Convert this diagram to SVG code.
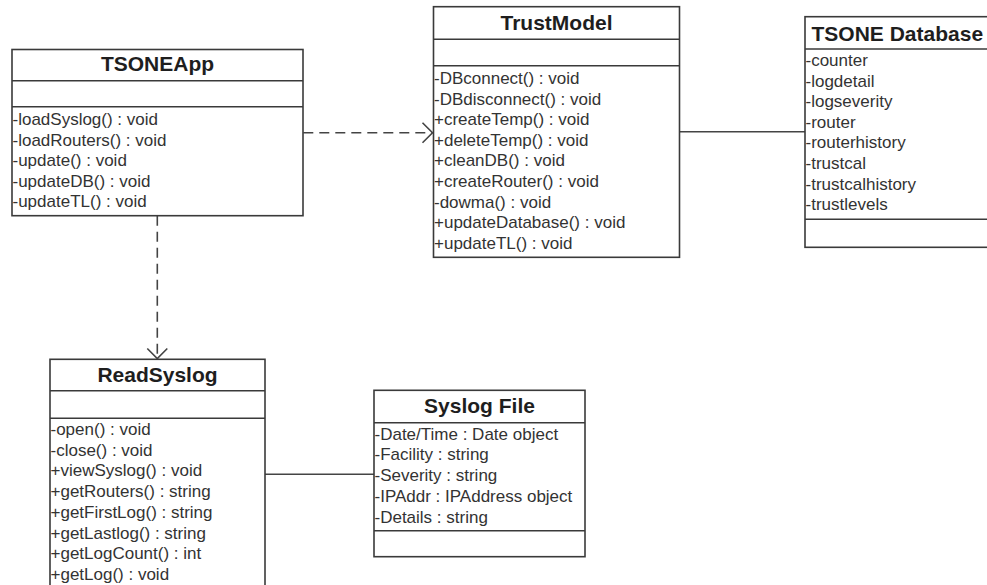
<svg xmlns="http://www.w3.org/2000/svg" width="987" height="585" viewBox="0 0 987 585">
  <style>
    .box { fill: #ffffff; stroke: #3a3a3a; stroke-width: 1.6; }
    .div { stroke: #3a3a3a; stroke-width: 1.6; }
    .title { font-family: "Liberation Sans", Arial, sans-serif; font-size: 21px; font-weight: bold; fill: #1e1e1e; text-anchor: middle; }
    .item { font-family: "Liberation Sans", Arial, sans-serif; font-size: 17px; fill: #333333; }
    .dep { fill: none; stroke: #444444; stroke-width: 1.6; stroke-dasharray: 10 6; }
    .assoc { fill: none; stroke: #444444; stroke-width: 1.6; }
  </style>
  <defs>
    <marker id="openArrow" markerUnits="userSpaceOnUse" viewBox="-12 -12 14 24" markerWidth="14" markerHeight="24" refX="0" refY="0" orient="auto">
      <path d="M-10,-10 L0,0 L-10,10" fill="none" stroke="#444444" stroke-width="1.6" stroke-dasharray="none"/>
    </marker>
  </defs>

  <rect width="987" height="585" fill="#ffffff"/>

  <!-- connectors -->
  <g id="connectors">
    <path class="dep" d="M303.3,132.7 H432.5" marker-end="url(#openArrow)"/>
    <path class="assoc" d="M679.5,131.7 H805"/>
    <path class="dep" d="M157.3,215.7 V358.5" marker-end="url(#openArrow)"/>
    <path class="assoc" d="M265,474.3 H374"/>
  </g>

  <!-- TSONEApp class -->
  <g id="tsoneapp">
    <rect class="box" x="12" y="49.5" width="291" height="166.2"/>
    <line class="div" x1="12" y1="80.7" x2="303" y2="80.7"/>
    <line class="div" x1="12" y1="106.7" x2="303" y2="106.7"/>
    <text class="title" x="157.5" y="71">TSONEApp</text>
    <text class="item" x="12.5" y="125">-loadSyslog() : void</text>
    <text class="item" x="12.5" y="145.5">-loadRouters() : void</text>
    <text class="item" x="12.5" y="166">-update() : void</text>
    <text class="item" x="12.5" y="186.5">-updateDB() : void</text>
    <text class="item" x="12.5" y="207">-updateTL() : void</text>
  </g>

  <!-- TrustModel class -->
  <g id="trustmodel">
    <rect class="box" x="433.5" y="6.7" width="246" height="250.6"/>
    <line class="div" x1="433.5" y1="39.3" x2="679.5" y2="39.3"/>
    <line class="div" x1="433.5" y1="65.7" x2="679.5" y2="65.7"/>
    <text class="title" x="556.5" y="29.5">TrustModel</text>
    <text class="item" x="434" y="84">-DBconnect() : void</text>
    <text class="item" x="434" y="104.6">-DBdisconnect() : void</text>
    <text class="item" x="434" y="125.2">+createTemp() : void</text>
    <text class="item" x="434" y="145.8">+deleteTemp() : void</text>
    <text class="item" x="434" y="166.4">+cleanDB() : void</text>
    <text class="item" x="434" y="187">+createRouter() : void</text>
    <text class="item" x="434" y="207.6">-dowma() : void</text>
    <text class="item" x="434" y="228.2">+updateDatabase() : void</text>
    <text class="item" x="434" y="248.8">+updateTL() : void</text>
  </g>

  <!-- TSONE Database -->
  <g id="tsone-database">
    <rect class="box" x="805" y="16.7" width="195" height="230.6"/>
    <line class="div" x1="805" y1="49" x2="1000" y2="49"/>
    <line class="div" x1="805" y1="219.3" x2="1000" y2="219.3"/>
    <text class="title" x="811.5" y="40.7" style="text-anchor: start;">TSONE Database</text>
    <text class="item" x="805.5" y="66">-counter</text>
    <text class="item" x="805.5" y="86.6">-logdetail</text>
    <text class="item" x="805.5" y="107.2">-logseverity</text>
    <text class="item" x="805.5" y="127.8">-router</text>
    <text class="item" x="805.5" y="148.4">-routerhistory</text>
    <text class="item" x="805.5" y="169">-trustcal</text>
    <text class="item" x="805.5" y="189.6">-trustcalhistory</text>
    <text class="item" x="805.5" y="210.2">-trustlevels</text>
  </g>

  <!-- ReadSyslog class -->
  <g id="readsyslog">
    <rect class="box" x="50" y="359.3" width="215" height="240"/>
    <line class="div" x1="50" y1="390.7" x2="265" y2="390.7"/>
    <line class="div" x1="50" y1="418.3" x2="265" y2="418.3"/>
    <text class="title" x="157.5" y="382">ReadSyslog</text>
    <text class="item" x="50.5" y="435">-open() : void</text>
    <text class="item" x="50.5" y="455.7">-close() : void</text>
    <text class="item" x="50.5" y="476.4">+viewSyslog() : void</text>
    <text class="item" x="50.5" y="497.1">+getRouters() : string</text>
    <text class="item" x="50.5" y="517.8">+getFirstLog() : string</text>
    <text class="item" x="50.5" y="538.5">+getLastlog() : string</text>
    <text class="item" x="50.5" y="559.2">+getLogCount() : int</text>
    <text class="item" x="50.5" y="579.9">+getLog() : void</text>
  </g>

  <!-- Syslog File -->
  <g id="syslog-file">
    <rect class="box" x="374" y="390.3" width="211" height="166.4"/>
    <line class="div" x1="374" y1="422.7" x2="585" y2="422.7"/>
    <line class="div" x1="374" y1="530.7" x2="585" y2="530.7"/>
    <text class="title" x="479.5" y="412.5">Syslog File</text>
    <text class="item" x="374.5" y="439.5">-Date/Time : Date object</text>
    <text class="item" x="374.5" y="460.3">-Facility : string</text>
    <text class="item" x="374.5" y="481.1">-Severity : string</text>
    <text class="item" x="374.5" y="501.9">-IPAddr : IPAddress object</text>
    <text class="item" x="374.5" y="522.7">-Details : string</text>
  </g>
</svg>
